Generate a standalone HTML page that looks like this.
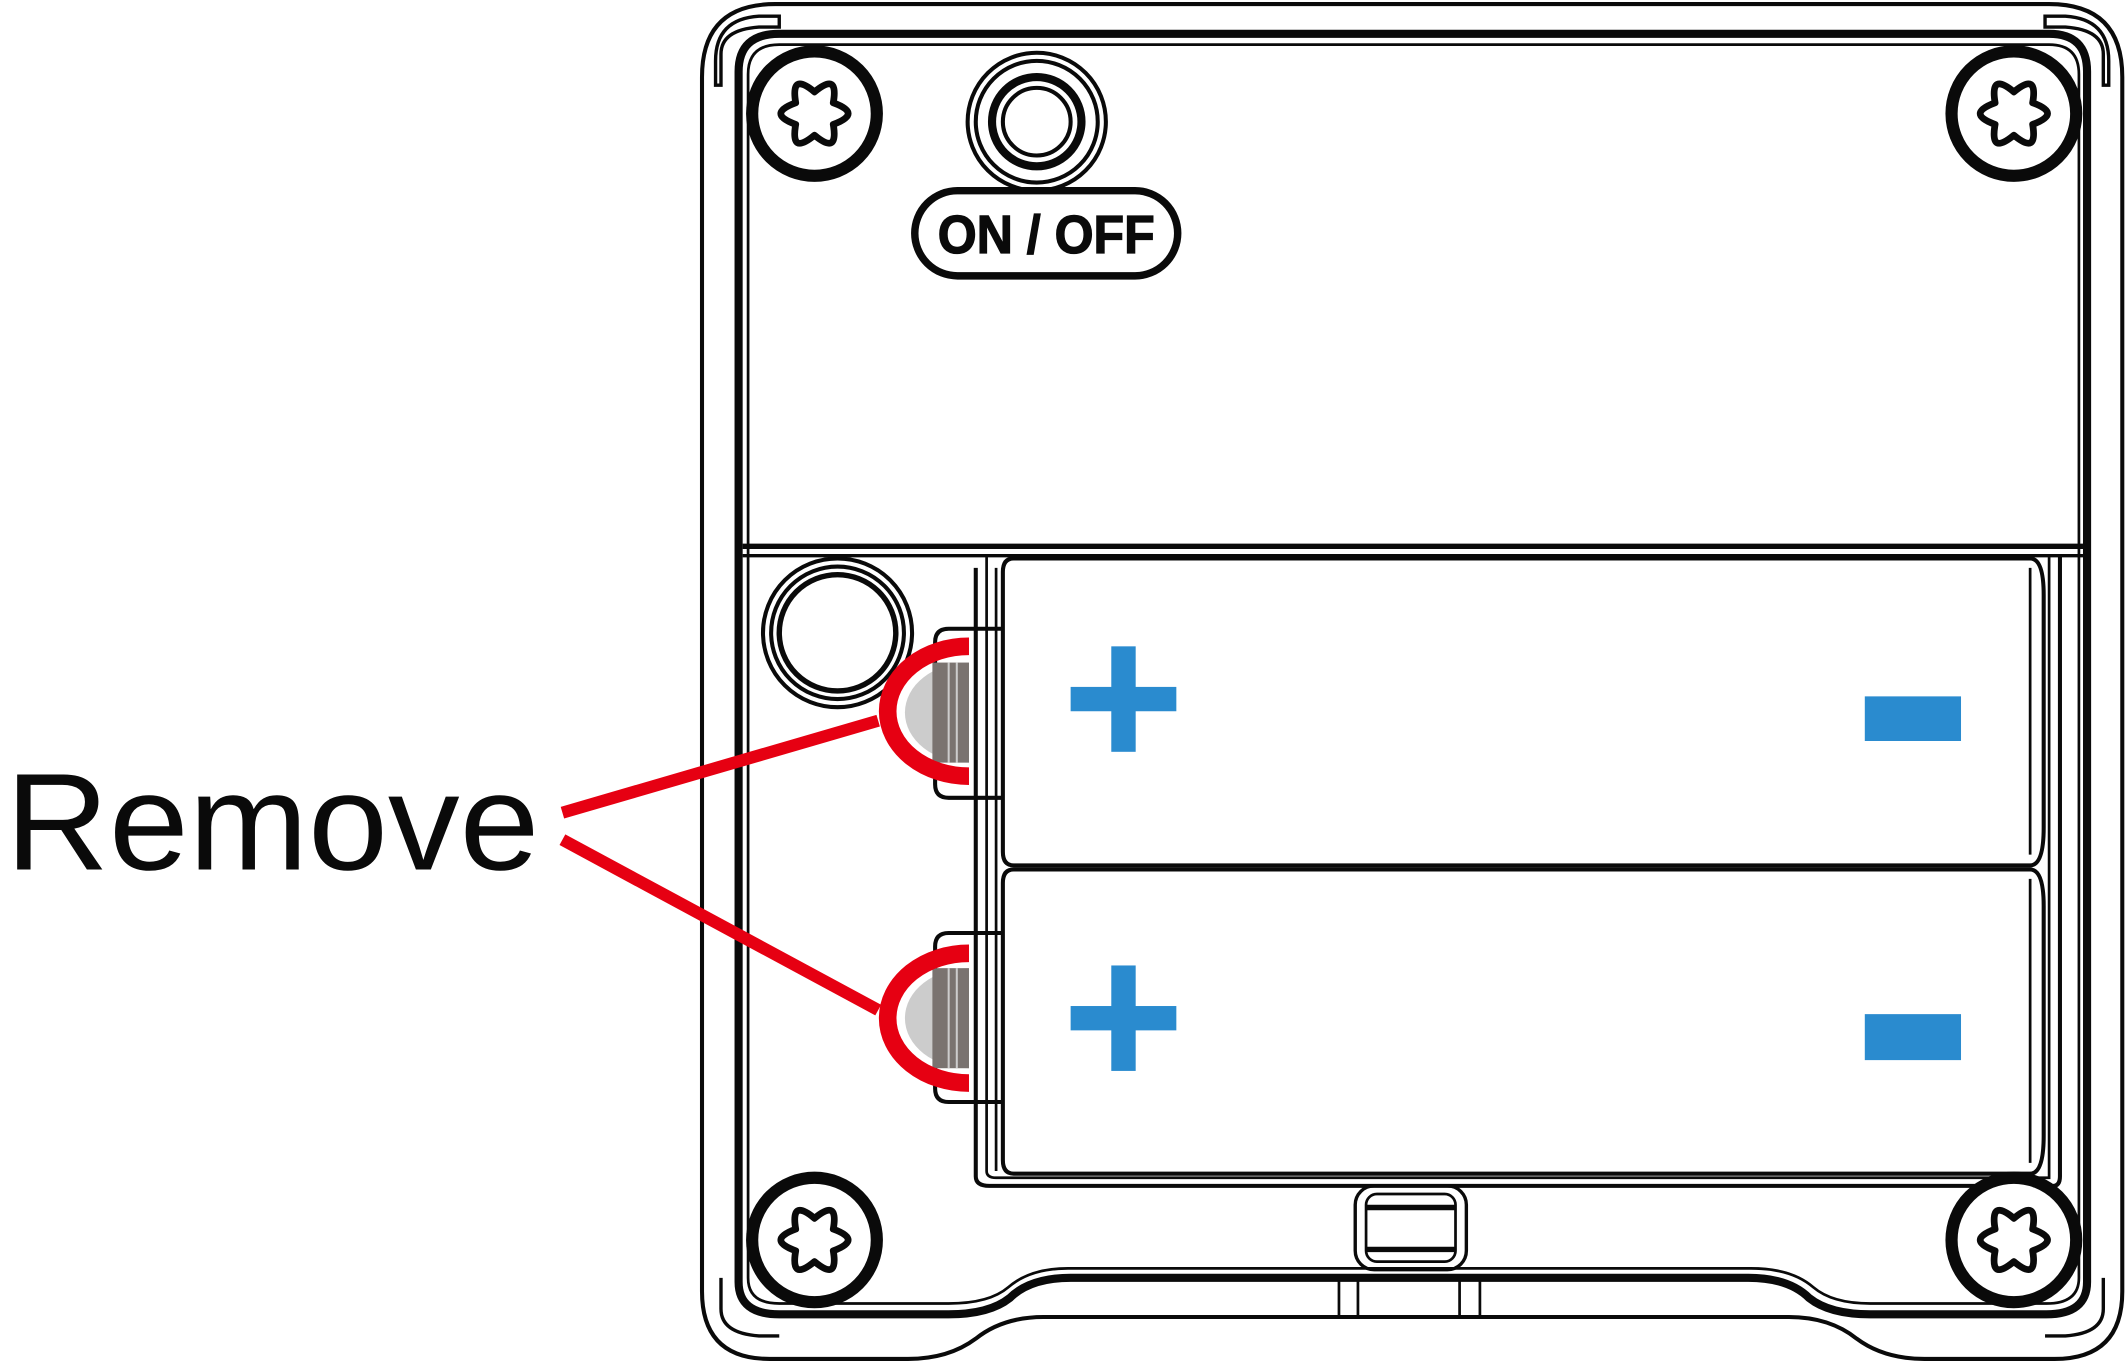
<!DOCTYPE html>
<html><head><meta charset="utf-8"><style>
html,body{margin:0;padding:0;background:#fff;}
svg{display:block;}
</style></head><body>
<svg width="2125" height="1363" viewBox="0 0 1568 1008" preserveAspectRatio="none" xmlns="http://www.w3.org/2000/svg">
<defs>
<g id="screw">
<circle r="46" fill="#fff" stroke="#0a0a0a" stroke-width="9"/>
<path d="M-8,-13.86 Q0,-36 8,-13.86 Q31,-18 16,0 Q31,18 8,13.86 Q0,36 -8,13.86 Q-31,18 -16,0 Q-31,-18 -8,-13.86Z" fill="none" stroke="#0a0a0a" stroke-width="5" stroke-linejoin="round" transform="rotate(30)"/>
</g>
</defs>
<g fill="none" stroke="#0a0a0a">
<path d="M572,3 H1512 Q1566,3 1566,57 V955 Q1566,1005 1516,1005 H1420 Q1390,1005 1370,990 Q1350,974 1320,974 H770 Q740,974 720,990 Q700,1005 670,1005 H568 Q518,1005 518,955 V57 Q518,3 572,3 Z" stroke-width="3"/>
<path d="M532,63 V40 Q532,22 560,20 H575 V12 H560 Q528,14 528,45 V63 Z" stroke-width="2.5"/>
<path d="M1552,63 V40 Q1552,22 1524,20 H1509 V12 H1524 Q1556,14 1556,45 V63 Z" stroke-width="2.5"/>
<path d="M532,945 V968 Q532,986 560,988 H575" stroke-width="2.5"/>
<path d="M1552,945 V968 Q1552,986 1524,988 H1509" stroke-width="2.5"/>
<path d="M575,25 H1512 Q1540,25 1540,53 V948 Q1540,972 1510,972 H1380 Q1350,972 1335,960 Q1320,945 1290,945 H790 Q760,945 745,960 Q730,972 700,972 H575 Q545,972 545,948 V53 Q545,25 575,25 Z" stroke-width="6"/>
<path d="M575,33 H1512 Q1534,33 1534,55 V945 Q1534,964 1510,964 H1380 Q1352,964 1338,952 Q1322,938 1292,938 H788 Q760,938 744,952 Q730,964 700,964 H575 Q552,964 552,945 V55 Q552,33 575,33 Z" stroke-width="2"/>
<line x1="548" y1="404" x2="1537" y2="404" stroke-width="4"/>
<line x1="548" y1="411" x2="1537" y2="411" stroke-width="2.5"/>
<line x1="988" y1="945" x2="988" y2="974" stroke-width="2"/>
<line x1="1002" y1="945" x2="1002" y2="974" stroke-width="2"/>
<line x1="1077" y1="945" x2="1077" y2="974" stroke-width="2"/>
<line x1="1092" y1="945" x2="1092" y2="974" stroke-width="2"/>
<rect x="1000" y="877" width="82" height="62" rx="14" stroke-width="2.5"/>
<rect x="1008" y="883" width="66" height="50" rx="8" stroke-width="2"/>
<line x1="1008" y1="893" x2="1074" y2="893" stroke-width="4"/>
<line x1="1008" y1="924" x2="1074" y2="924" stroke-width="4"/>
<circle cx="765" cy="90" r="51" stroke-width="3"/>
<circle cx="765" cy="90" r="45" stroke-width="3"/>
<circle cx="765" cy="90" r="33" stroke-width="6"/>
<circle cx="765" cy="90" r="25" stroke-width="3"/>
<rect x="675" y="141" width="194" height="63" rx="31.5" stroke-width="5.5"/>
<circle cx="618" cy="468" r="55" stroke-width="3"/>
<circle cx="618" cy="468" r="49" stroke-width="3"/>
<circle cx="618" cy="468" r="43" stroke-width="4"/>
<path d="M720,420 V870 Q720,877 730,877 H1515 Q1520,877 1520,870 V410" stroke-width="3"/>
<path d="M728,412 V866 Q728,871 735,871 H1512 V412" stroke-width="2"/>
<path d="M748,413 H1498 Q1508,413 1508,440 V612 Q1508,640 1498,640 H748 Q740,640 740,630 V423 Q740,413 748,413 Z" stroke-width="3"/>
<path d="M748,643 H1498 Q1508,643 1508,670 V840 Q1508,868 1498,868 H748 Q740,868 740,858 V653 Q740,643 748,643 Z" stroke-width="3"/>
<line x1="1498" y1="420" x2="1498" y2="632" stroke-width="2"/>
<line x1="1498" y1="650" x2="1498" y2="860" stroke-width="2"/>
<line x1="735" y1="420" x2="735" y2="866" stroke-width="2"/>
<path d="M740,465 H700 Q690,465 690,475 V580 Q690,590 700,590 H740" stroke-width="3"/>
<path d="M740,690 H700 Q690,690 690,700 V805 Q690,815 700,815 H740" stroke-width="3"/>
</g>
<use href="#screw" x="601" y="84"/>
<use href="#screw" x="1486" y="84"/>
<use href="#screw" x="601" y="917"/>
<use href="#screw" x="1486" y="917"/>
<text x="772" y="187" font-family="Liberation Sans, sans-serif" font-weight="bold" font-size="40" text-anchor="middle" fill="#0a0a0a" textLength="160" lengthAdjust="spacingAndGlyphs" stroke="#0a0a0a" stroke-width="1">ON / OFF</text>
<path d="M715,490 A46,36 0 0 0 715,564 Z" fill="#ccc"/>
<rect x="688" y="490" width="27" height="74" fill="#7a7370"/>
<path d="M715,716 A46,36 0 0 0 715,790 Z" fill="#ccc"/>
<rect x="688" y="716" width="27" height="74" fill="#7a7370"/>
<g stroke="#ccc" stroke-width="1.5">
<line x1="700" y1="490" x2="700" y2="564"/><line x1="706" y1="490" x2="706" y2="564"/>
<line x1="700" y1="716" x2="700" y2="790"/><line x1="706" y1="716" x2="706" y2="790"/>
</g>
<g fill="none" stroke="#e60012">
<path d="M715,478 A60,48 0 0 0 715,574" stroke-width="13"/>
<path d="M715,705 A60,48 0 0 0 715,801" stroke-width="13"/>
<line x1="415" y1="601" x2="648" y2="533" stroke-width="9"/>
<line x1="415" y1="621" x2="648" y2="747" stroke-width="9"/>
</g>
<g fill="#2a8bcf">
<rect x="790" y="508" width="78" height="18"/><rect x="820" y="478" width="18" height="78"/>
<rect x="1376" y="515" width="71" height="33"/>
<rect x="790" y="744" width="78" height="18"/><rect x="820" y="714" width="18" height="78"/>
<rect x="1376" y="750" width="71" height="34"/>
</g>
<text x="4" y="643" font-family="Liberation Sans, sans-serif" font-size="102" fill="#0a0a0a" textLength="394" lengthAdjust="spacingAndGlyphs">Remove</text>
</svg>
</body></html>
